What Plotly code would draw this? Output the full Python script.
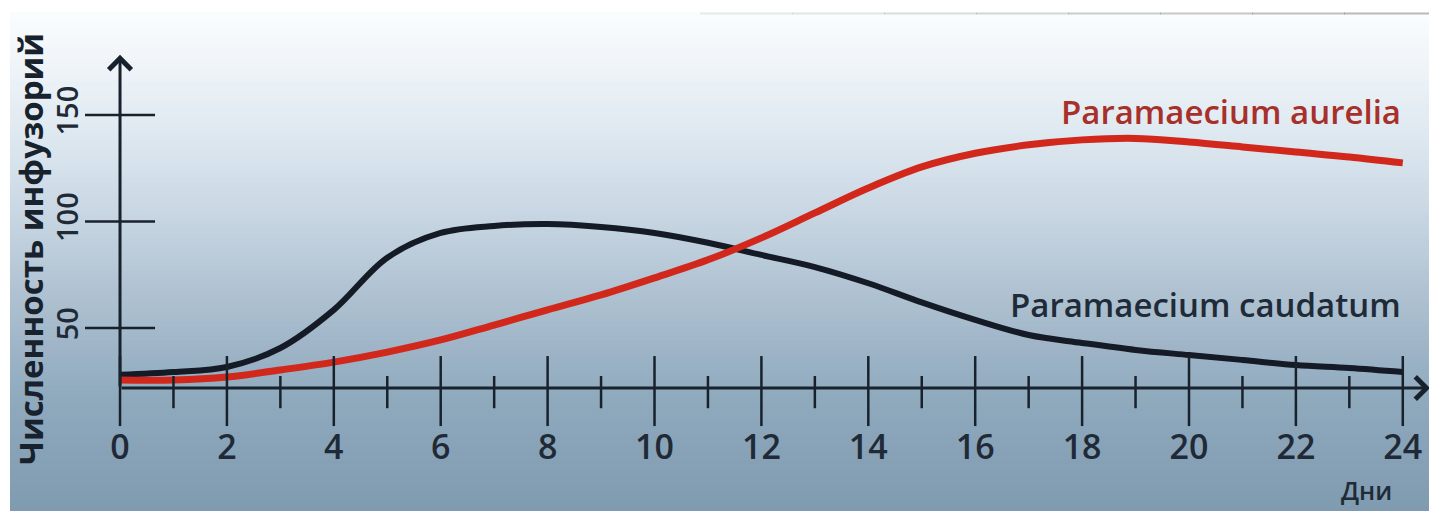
import plotly.graph_objects as go

# ---------------- data ----------------
days = list(range(25))
caudatum = [28, 29.3, 31.7, 40.6, 58.5, 83, 94.6, 97.9, 98.8, 97.4, 94.6, 90, 84.3,
            78.6, 71, 62, 53.8, 46.7, 43, 39.7, 37.3, 35, 32.6, 31.2, 29.3]
aurelia = [25.6, 25.6, 27, 30.3, 34, 38.7, 44.4, 51.4, 58.5, 65.5, 73.5, 82, 92.3,
           104, 115.7, 125.6, 132, 136, 138.3, 139, 137.3, 135, 132.6, 130.3, 127.5]
x_major_ticks = list(range(0, 25, 2))
x_minor_ticks = list(range(1, 25, 2))
x_tick_labels = [str(v) for v in x_major_ticks]
y_ticks = [50, 100, 150]
y_tick_labels = ["50", "100", "150"]
series_names = ["Paramaecium caudatum", "Paramaecium aurelia"]
x_title = "Дни"
y_title = "Численность инфузорий"

# ---------------- geometry / style ----------------
OFF = 8                      # page body margin
W, H = 1437 - OFF, 511 - OFF
ML, MB = 104, 115
PLOT_W, PLOT_H = W - ML, H - MB
X_RANGE = [-0.15, 24.64]
Y_BASE = 21.83
Y_RANGE = [18.08, 200.2]
AXIS_COLOR = "#18222d"
RED = "#d2281c"
BLACK = "#141b26"
FONT = "Open Sans"


def px_x(px):
    """reference-page pixel x -> paper x"""
    return (px - OFF - ML) / PLOT_W


def px_y(py):
    """reference-page pixel y -> paper y"""
    return (PLOT_H - (py - OFF)) / PLOT_H


fig = go.Figure()

# background gradient (vertical)
stops = [(12, (251, 253, 254)), (60, (240, 245, 249)), (120, (226, 235, 242)),
         (200, (204, 218, 230)), (300, (173, 192, 208)), (400, (143, 169, 189)),
         (520, (126, 154, 175))]
n_strips = 110
y0, y1 = 12, 520
step = (y1 - y0) / n_strips
for i in range(n_strips):
    ya = y0 + i * step
    yb = ya + step + 0.8
    ym = ya + step / 2
    c = stops[-1][1]
    for j in range(len(stops) - 1):
        if stops[j][0] <= ym <= stops[j + 1][0]:
            t = (ym - stops[j][0]) / (stops[j + 1][0] - stops[j][0])
            c = [round(stops[j][1][k] + t * (stops[j + 1][1][k] - stops[j][1][k])) for k in range(3)]
            break
    fig.add_shape(type="rect", xref="paper", yref="paper",
                  x0=px_x(10), x1=px_x(1445), y0=px_y(yb), y1=px_y(ya),
                  fillcolor=f"rgb({c[0]},{c[1]},{c[2]})", line=dict(width=0), layer="below")
# faint scan edge along the top, fading in towards the right
for k in range(8):
    xa = 700 + k * 92
    fig.add_shape(type="line", xref="paper", yref="paper", x0=px_x(xa), x1=px_x(xa + 93),
                  y0=px_y(13.5), y1=px_y(13.5),
                  line=dict(color=f"rgba(110,110,110,{0.12 + 0.05 * k:.2f})", width=2),
                  layer="below")

# curves
fig.add_trace(go.Scatter(x=days, y=caudatum, mode="lines", name=series_names[0],
                         line=dict(color=BLACK, width=6, shape="spline", smoothing=1.0),
                         cliponaxis=False, hoverinfo="skip"))
fig.add_trace(go.Scatter(x=days, y=aurelia, mode="lines", name=series_names[1],
                         line=dict(color=RED, width=7, shape="spline", smoothing=1.0),
                         cliponaxis=False, hoverinfo="skip"))

# tick marks crossing the axes
fig.add_trace(go.Scatter(x=x_major_ticks, y=[20.4] * len(x_major_ticks), mode="markers",
                         marker=dict(symbol="line-ns", size=50, line=dict(width=2.5, color=AXIS_COLOR)),
                         cliponaxis=False, hoverinfo="skip", showlegend=False))
fig.add_trace(go.Scatter(x=x_minor_ticks, y=[19.9] * len(x_minor_ticks), mode="markers",
                         marker=dict(symbol="line-ns", size=23, line=dict(width=2.5, color=AXIS_COLOR)),
                         cliponaxis=False, hoverinfo="skip", showlegend=False))
fig.add_trace(go.Scatter(x=[0] * len(y_ticks), y=y_ticks, mode="markers",
                         marker=dict(symbol="line-ew", size=50, line=dict(width=2.5, color=AXIS_COLOR)),
                         cliponaxis=False, hoverinfo="skip", showlegend=False))

annotations = [
    # axis arrows
    dict(x=24.51, y=Y_BASE, ax=0, ay=Y_BASE, xref="x", yref="y", axref="x", ayref="y",
         text="", showarrow=True, arrowhead=4, arrowsize=1.45, arrowwidth=3, arrowcolor=AXIS_COLOR),
    dict(x=0, y=178.2, ax=0, ay=Y_BASE, xref="x", yref="y", axref="x", ayref="y",
         text="", showarrow=True, arrowhead=4, arrowsize=1.45, arrowwidth=3, arrowcolor=AXIS_COLOR),
    # series labels
    dict(x=24, y=151.5, xref="x", yref="y", xanchor="right", yanchor="middle", showarrow=False,
         text=series_names[1], font=dict(family=FONT, size=33, color="#a8302a", weight=600)),
    dict(x=24, y=60.8, xref="x", yref="y", xanchor="right", yanchor="middle", showarrow=False,
         text=series_names[0], font=dict(family=FONT, size=33, color="#1f2b38", weight=600)),
    # axis titles
    dict(x=px_x(1366), y=px_y(490), xref="paper", yref="paper", xanchor="center", yanchor="middle",
         showarrow=False, text=x_title, font=dict(family=FONT, size=25, color="#1f2b38", weight=600)),
    dict(x=px_x(30), y=px_y(249), xref="paper", yref="paper", xanchor="center", yanchor="middle",
         showarrow=False, text=y_title, textangle=-90,
         font=dict(family=FONT, size=33, color="#18222d", weight="bold")),
]

fig.update_layout(
    width=W, height=H, autosize=False,
    margin=dict(l=ML, r=0, t=0, b=MB, pad=0),
    paper_bgcolor="white", plot_bgcolor="rgba(0,0,0,0)",
    showlegend=False,
    annotations=annotations,
    xaxis=dict(range=X_RANGE, showgrid=False, zeroline=False, showline=False, ticks="",
               tickmode="array", tickvals=x_major_ticks, ticktext=x_tick_labels,
               tickfont=dict(family=FONT, size=34, color="#1f2a36", weight=600),
               ticklabelstandoff=28),
    yaxis=dict(range=Y_RANGE, showgrid=False, zeroline=False, showline=False, ticks="",
               tickmode="array", tickvals=y_ticks, ticktext=y_tick_labels, tickangle=-90,
               tickfont=dict(family=FONT, size=29, color="#1f2a36", weight=600),
               ticklabelstandoff=27),
)

fig.write_html("out.html")
